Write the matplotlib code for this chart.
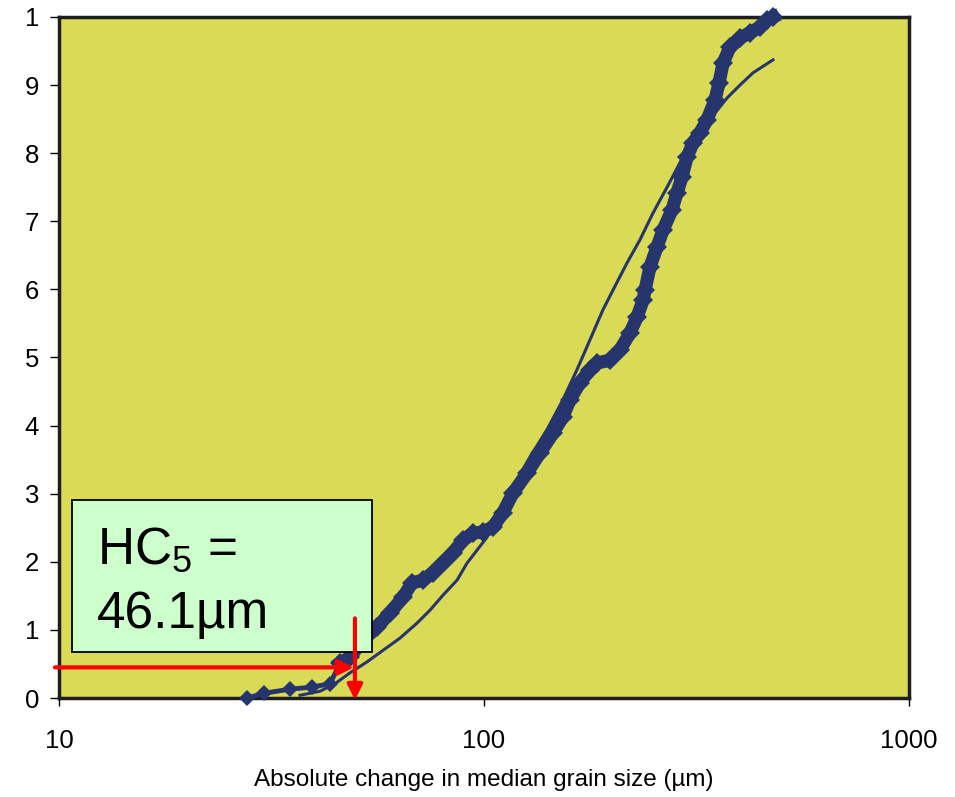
import matplotlib.pyplot as plt
from matplotlib.patches import Rectangle

plt.rcParams["font.family"] = ["Liberation Sans", "DejaVu Sans"]
plt.rcParams["mathtext.fontset"] = "custom"
plt.rcParams["mathtext.rm"] = "Liberation Sans"

# empirical species sensitivity points (µm, cumulative fraction)
obs_x = [27.70, 30.37, 34.97, 39.38, 43.42, 45.84, 48.39, 51.92, 56.01, 60.09,
         64.48, 67.69, 71.84, 75.86, 80.08, 84.54, 89.25, 94.21, 99.46, 105.0,
         110.8, 117.0, 126.2, 135.5, 145.4, 153.4, 159.4, 168.2, 177.6, 184.5,
         198.0, 208.9, 220.6, 229.1, 236.7, 239.3, 245.8, 255.3, 263.8, 277.0,
         284.6, 292.4, 300.4, 310.3, 322.3, 334.8, 349.6, 357.3, 365.1, 379.2,
         400.3, 422.6, 446.1, 463.4, 478.6]
obs_y = [0.000, 0.007, 0.013, 0.016, 0.021, 0.051, 0.060, 0.085, 0.104, 0.125,
         0.148, 0.169, 0.173, 0.184, 0.198, 0.213, 0.232, 0.242, 0.244, 0.251,
         0.272, 0.301, 0.330, 0.360, 0.389, 0.413, 0.438, 0.463, 0.482, 0.492,
         0.496, 0.511, 0.536, 0.559, 0.584, 0.599, 0.633, 0.662, 0.687, 0.717,
         0.742, 0.765, 0.794, 0.815, 0.830, 0.849, 0.878, 0.903, 0.932, 0.956,
         0.969, 0.977, 0.985, 0.996, 1.000]

# fitted distribution curve
fit_x = [36.91, 41.13, 44.61, 48.39, 53.05, 57.86, 63.45, 69.57, 74.64, 80.08,
         86.41, 91.20, 96.27, 101.6, 117.0, 128.3, 140.7, 153.4, 165.5, 177.6,
         190.5, 201.2, 217.1, 232.9, 249.8, 269.6, 289.2, 327.6, 373.1, 400.3,
         429.5, 478.6]
fit_y = [0.004, 0.010, 0.021, 0.037, 0.053, 0.070, 0.088, 0.110, 0.129, 0.151,
         0.173, 0.198, 0.217, 0.236, 0.310, 0.354, 0.394, 0.438, 0.482, 0.526,
         0.570, 0.599, 0.639, 0.673, 0.712, 0.750, 0.786, 0.837, 0.881, 0.900,
         0.918, 0.937]

hc5 = 49.7
hc5_y = 0.045
y_ticks = [0, 0.1, 0.2, 0.3, 0.4, 0.5, 0.6, 0.7, 0.8, 0.9, 1.0]
y_labels = ["0", "1", "2", "3", "4", "5", "6", "7", "8", "9", "1"]
x_ticks = [10, 100, 1000]
x_labels = ["10", "100", "1000"]

navy = "#27356e"

fig = plt.figure(figsize=(9.55, 7.97), dpi=100)
ax = fig.add_axes([0.0618, 0.1242, 0.89, 0.8545])
ax.set_facecolor("#d9da56")

ax.plot(fit_x, fit_y, color=navy, lw=2.2, zorder=3)
# sparse tail: separate diamonds joined by a thinner line
ax.plot(obs_x[:6], obs_y[:6], color=navy, lw=3.5, marker="D", markersize=8,
        markeredgewidth=0, zorder=4, clip_on=False)
# dense part: overlapping diamonds form a thick band
ax.plot(obs_x[5:], obs_y[5:], color=navy, lw=9.5, marker="D", markersize=10,
        markeredgewidth=0, zorder=4, clip_on=False)

ax.set_xscale("log")
ax.set_xlim(10, 1000)
ax.set_ylim(0, 1)
ax.set_xticks(x_ticks)
ax.set_xticklabels(x_labels)
ax.minorticks_off()
ax.set_yticks(y_ticks)
ax.set_yticklabels(y_labels)
ax.tick_params(axis="y", length=6.5, width=1, pad=8, labelsize=18.5)
ax.tick_params(axis="x", length=6, width=1, pad=16, labelsize=18.5)
for s in ax.spines.values():
    s.set_linewidth(2.5)
    s.set_color("#1e1e1e")

ax.set_xlabel("Absolute change in median grain size (µm)", fontsize=17.5,
              labelpad=12)

# HC5 annotation box
box = Rectangle((0.0153, 0.0675), 0.353, 0.2235, transform=ax.transAxes,
                facecolor="#ccffcc", edgecolor="black", lw=1.3, zorder=5)
ax.add_patch(box)
ax.text(0.045, 0.198, "HC$_5$ =", transform=ax.transAxes, fontsize=37,
        va="baseline", zorder=6)
ax.text(0.045, 0.103, "46.1µm", transform=ax.transAxes, fontsize=37,
        va="baseline", zorder=6)

# red arrows marking HC5
ax.annotate("", xy=(hc5 * 0.995, hc5_y), xytext=(9.78, hc5_y),
            arrowprops=dict(arrowstyle="-|>,head_length=0.9,head_width=0.45",
                            color="red", lw=3, shrinkA=0, shrinkB=0),
            annotation_clip=False, zorder=7)
ax.annotate("", xy=(hc5, -0.003), xytext=(hc5, 0.117),
            arrowprops=dict(arrowstyle="-|>,head_length=0.9,head_width=0.45",
                            color="red", lw=3, shrinkA=0, shrinkB=0),
            annotation_clip=False, zorder=7)

fig.savefig("out.png", dpi=100)
plt.close(fig)
